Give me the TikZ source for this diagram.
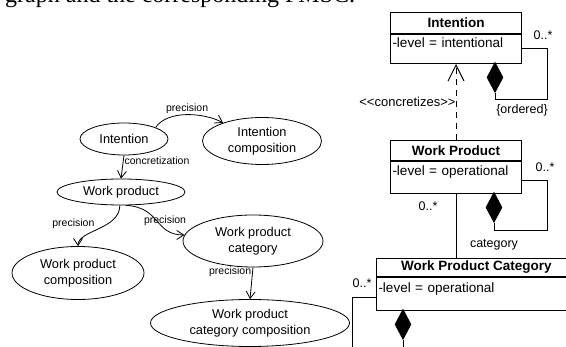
\documentclass[tikz,border=0pt]{standalone}
\usepackage{fontspec}
\setmainfont{Liberation Sans}
\newfontfamily\capfont{Liberation Serif}
\usetikzlibrary{arrows.meta,shapes.geometric,positioning}
\tikzset{
  state/.style={ellipse, draw, line width=0.8pt, inner sep=0pt, align=center, font=\fontsize{12.8}{15.5}\selectfont},
  prec/.style={-{Straight Barb[length=7pt,width=9pt]}, line width=0.8pt},
  edgelab/.style={font=\fontsize{10.5}{12}\selectfont, inner sep=1pt},
  umltitle/.style={draw, line width=1pt, font=\bfseries\fontsize{13.5}{16}\selectfont, inner sep=0pt, anchor=north west},
  umlattr/.style={draw, line width=1pt, font=\fontsize{13.5}{16}\selectfont, inner xsep=2pt, inner ysep=0pt, align=left, text height=13pt, text depth=16pt, anchor=north west},
  composite/.style={diamond, draw, fill=black, line width=0.8pt, inner sep=0pt, minimum width=16pt, minimum height=30pt, anchor=north},
  umllab/.style={font=\fontsize{12.5}{15}\selectfont, inner sep=1pt},
  assoc/.style={line width=1pt}
}
\begin{document}
\begin{tikzpicture}[x=1pt,y=-1pt]
\useasboundingbox (0,0) rectangle (566,347);
\clip (0,0) rectangle (566,347);
\node[font=\capfont\fontsize{24}{28}\selectfont, anchor=base west, inner sep=0pt] (caption) at (5,3) {graph and the corresponding PMSC.};

\node[state, minimum width=88pt, minimum height=32pt] (int) at (124,139) {Intention};
\node[state, minimum width=119pt, minimum height=47pt] (intcomp) at (262,141) {Intention\\composition};
\node[state, minimum width=128pt, minimum height=26pt] (wp) at (121,192) {Work product};
\node[state, minimum width=132pt, minimum height=53pt] (wpcomp) at (78,273) {Work product\\composition};
\node[state, minimum width=140pt, minimum height=52pt] (wpcat) at (253,241) {Work product\\category};
\node[state, minimum width=199pt, minimum height=47pt] (wpcatcomp) at (250,323) {Work product\\category composition};
\draw[prec] (int.20) .. controls +(12,-18) and +(-18,-10) .. node[edgelab, above]{precision} (intcomp.155);
\draw[prec] (int.south) -- node[edgelab, right, pos=0.25]{concretization} (wp.north);
\draw[prec] (wp.265) .. controls +(0,24) and +(0,-16) .. node[edgelab, pos=0.55, above left]{precision} (wpcomp.north);
\draw[prec] (wp.290) .. controls +(35,2) and +(-30,0) .. node[edgelab, pos=0.5, xshift=8pt]{precision} (wpcat.175);
\draw[prec] (wpcat.south) -- node[edgelab, left, pos=0.15]{precision} (wpcatcomp.north);

\node[umltitle, minimum width=131pt, minimum height=21pt] (intT) at (390,12) {Intention};
\node[umlattr, text width=127pt, minimum height=29pt] (intA) at (intT.south west) {-level = intentional};
\node[umltitle, minimum width=131pt, minimum height=20pt] (wpT) at (390,140) {Work Product};
\node[umlattr, text width=127pt, minimum height=32pt] (wpA) at (wpT.south west) {-level = operational};
\node[umltitle, minimum width=200pt, minimum height=18pt] (wpcT) at (376,258) {Work Product Category};
\node[umlattr, text width=196pt, minimum height=33pt] (wpcA) at (wpcT.south west) {-level = operational};
\node[composite] (intD) at (495,62) {};
\node[composite] (wpD) at (494,192) {};
\node[composite] (wpcD) at (403,309) {};
\coordinate (wpcLoop) at (352,360);
\draw[assoc] (intA.east) -| (547,100) -| (intD.south);
\draw[assoc] ([yshift=-3pt]wpA.east) -| (547,231) -| (wpD.south);
\draw[assoc] ([yshift=-4pt]wpcA.west) -| (wpcLoop) -| (wpcD.south);
\draw[assoc] (wpA.south) -- (wpA.south |- wpcT.north);
\draw[assoc, dash pattern=on 6pt off 5pt, -{Straight Barb[length=16pt,width=16pt]}] (wpT.north) -- node[umllab, font=\fontsize{13}{15}\selectfont, left, inner sep=0pt]{<\kern0pt<concretizes>\kern0pt>} (intA.south);
\node[umllab] (intM) at (543,35) {0..*};
\node[umllab] (intO) at (522,110) {\{ordered\}};
\node[umllab] (wpM) at (545,167) {0..*};
\node[umllab] (wpcM) at (428,206) {0..*};
\node[umllab] (wpcR) at (494,245) {category};
\node[umllab] (wpcS) at (362,283) {0..*};
\end{tikzpicture}
\end{document}
